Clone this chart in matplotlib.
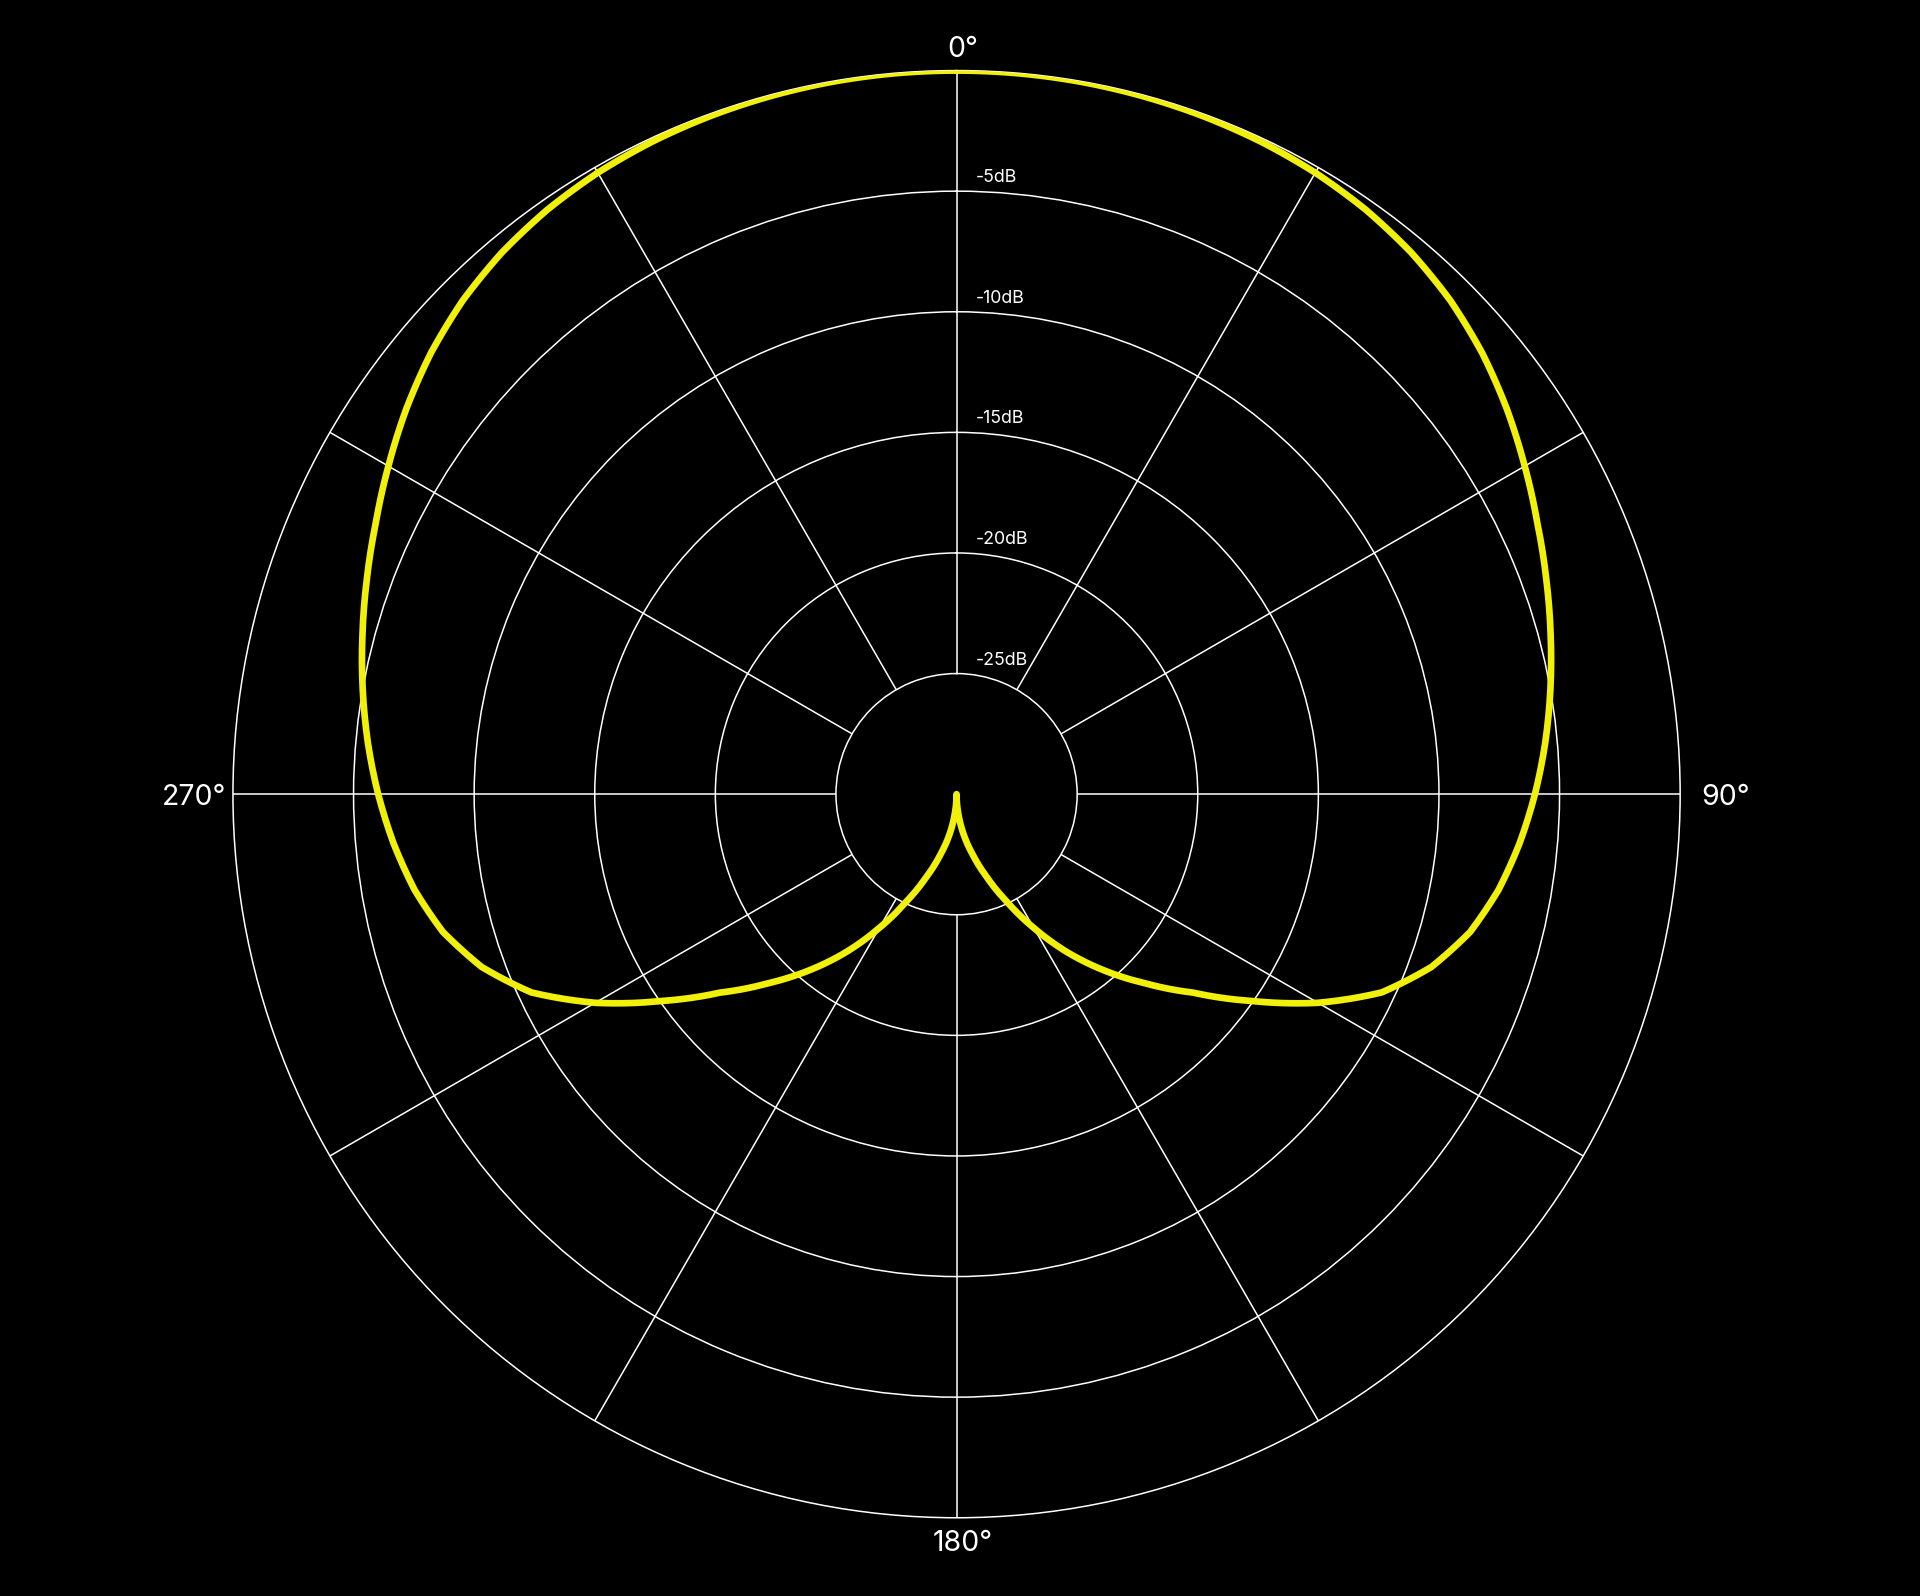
import numpy as np
import matplotlib
matplotlib.use("Agg")
import matplotlib.pyplot as plt

plt.rcParams['font.family'] = ['Inter', 'DejaVu Sans']

# Polar pattern: angle (deg, clockwise from front) and level (dB), right half
angle_deg = [0, 5, 10, 15, 20, 25, 30, 35, 40, 45, 50, 55, 60, 65, 70, 75, 80, 85, 90,
             95, 100, 105, 110, 115, 120, 125, 130, 135, 140, 145, 150, 155, 160, 165,
             170, 175, 180]
level_db = [0.0, -0.005, -0.02, -0.05, -0.09, -0.15, -0.25, -0.42, -0.68, -1.05, -1.55,
            -2.15, -2.8, -3.43, -3.98, -4.5, -5.0, -5.5, -6.02, -6.57, -7.18, -7.95,
            -9.05, -10.55, -12.7, -15.05, -17.2, -18.9, -20.45, -22.0, -23.6, -25.1,
            -26.35, -27.4, -28.3, -29.2, -30.0]

ring_db = [-25, -20, -15, -10, -5]
ring_labels = ['-25dB', '-20dB', '-15dB', '-10dB', '-5dB']
spoke_deg = [0, 30, 60, 90, 120, 150, 180, 210, 240, 270, 300, 330]
cardinal_deg = [0, 90, 180, 270]
cardinal_labels = ['0°', '90°', '180°', '270°']

R_MIN, R_MAX = -30, 0

# mirror to the left half (symmetric pattern)
full_deg = angle_deg + [360 - a for a in angle_deg[-2::-1]]
full_db = level_db + level_db[-2::-1]
theta = np.deg2rad(full_deg)

fig = plt.figure(figsize=(19.2, 15.96), dpi=100, facecolor='black')
ax = fig.add_axes([0.12133, 0.04902, 0.75375, 0.90677], projection='polar')
ax.set_facecolor('black')
ax.set_theta_zero_location('N')
ax.set_theta_direction(-1)
ax.set_ylim(R_MIN, R_MAX)

grid_kw = dict(color='white', linewidth=1.1)
ax.set_yticks(ring_db)
ax.set_yticklabels([])
ax.yaxis.grid(True, **grid_kw)
ax.set_xticks(np.deg2rad(spoke_deg))
ax.set_xticklabels([])
ax.xaxis.grid(False)
ax.tick_params(length=0)
ax.spines['polar'].set_color('white')
ax.spines['polar'].set_linewidth(1.1)

ax.vlines(np.deg2rad(spoke_deg), ring_db[0], R_MAX, **grid_kw, zorder=2)

line, = ax.plot(theta, full_db, color='#F0F00A', linewidth=4.8,
                solid_joinstyle='round', solid_capstyle='round', zorder=5)
# draw each segment as a polar arc (linear in angle/level) rather than a straight chord
line.get_path()._interpolation_steps = 12

for r, lab in zip(ring_db, ring_labels):
    ax.annotate(lab, xy=(0, r), xytext=(19.5, 9), textcoords='offset pixels',
                ha='left', va='baseline', color='white', fontsize=12.8,
                annotation_clip=False)

offsets = {0: ((6, 13.5), 'center'), 90: ((21, -10.5), 'left'),
           180: ((6, -33.2), 'center'), 270: ((-7, -10.5), 'right')}
for a, lab in zip(cardinal_deg, cardinal_labels):
    off, ha = offsets[a]
    ax.annotate(lab, xy=(np.deg2rad(a), R_MAX), xytext=off, textcoords='offset pixels',
                ha=ha, va='baseline', color='white', fontsize=20.5,
                annotation_clip=False)

fig.savefig('out.png', dpi=100, facecolor='black')
